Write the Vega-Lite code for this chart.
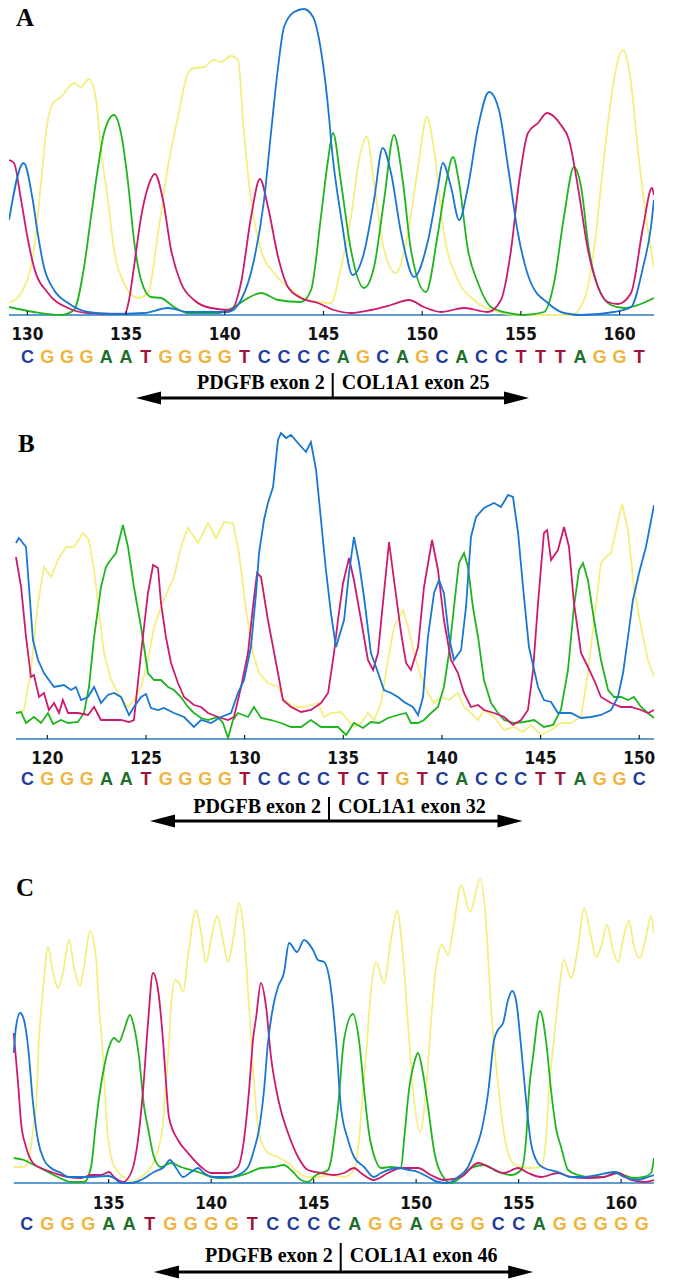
{
"$schema":"https://vega.github.io/schema/vega-lite/v6.json",
"background":"white",
"padding":{"left":8,"top":5,"right":23,"bottom":0},
"autosize":{"type":"pad"},
"bounds":"flush",
"spacing":5,
"config":{"view":{"stroke":null}},
"datasets":{
"A":[
{"d":"G","x":129.07,"y":12},{"d":"G","x":129.68,"y":22},{"d":"G","x":130.33,"y":65},{"d":"G","x":130.69,"y":132},{"d":"G","x":130.94,"y":182},{"d":"G","x":131.3,"y":212},{"d":"G","x":131.7,"y":218},{"d":"G","x":132.06,"y":227},{"d":"G","x":132.36,"y":232},{"d":"G","x":132.72,"y":228},{"d":"G","x":133.12,"y":236},{"d":"G","x":133.48,"y":215},{"d":"G","x":133.73,"y":165},{"d":"G","x":134.08,"y":115},{"d":"G","x":134.39,"y":65},{"d":"G","x":134.89,"y":32},{"d":"G","x":135.6,"y":17},{"d":"G","x":136.11,"y":22},{"d":"G","x":136.62,"y":82},{"d":"G","x":137.12,"y":148},{"d":"G","x":137.63,"y":198},{"d":"G","x":138.14,"y":242},{"d":"G","x":138.44,"y":247},{"d":"G","x":138.95,"y":248},{"d":"G","x":139.45,"y":255},{"d":"G","x":139.81,"y":253},{"d":"G","x":140.31,"y":259},{"d":"G","x":140.67,"y":255},{"d":"G","x":140.97,"y":182},{"d":"G","x":141.33,"y":115},{"d":"G","x":141.83,"y":65},{"d":"G","x":142.49,"y":42},{"d":"G","x":143.2,"y":28},{"d":"G","x":143.86,"y":18},{"d":"G","x":144.72,"y":13},{"d":"G","x":145.38,"y":12},{"d":"G","x":145.89,"y":48},{"d":"G","x":146.39,"y":98},{"d":"G","x":146.8,"y":155},{"d":"G","x":147.2,"y":178},{"d":"G","x":147.56,"y":132},{"d":"G","x":148.07,"y":65},{"d":"G","x":148.67,"y":42},{"d":"G","x":149.28,"y":82},{"d":"G","x":149.79,"y":148},{"d":"G","x":150.24,"y":198},{"d":"G","x":150.6,"y":165},{"d":"G","x":151.1,"y":82},{"d":"G","x":151.81,"y":35},{"d":"G","x":152.62,"y":15},{"d":"G","x":153.84,"y":3},{"d":"G","x":154.85,"y":0},{"d":"G","x":157.54,"y":0},{"d":"G","x":158.2,"y":15},{"d":"G","x":158.7,"y":65},{"d":"G","x":159.16,"y":148},{"d":"G","x":159.56,"y":215},{"d":"G","x":159.92,"y":255},{"d":"G","x":160.17,"y":265},{"d":"G","x":160.58,"y":232},{"d":"G","x":160.93,"y":165},{"d":"G","x":161.34,"y":98},{"d":"G","x":161.74,"y":48},
{"d":"A","x":129.07,"y":8},{"d":"A","x":130.33,"y":3},{"d":"A","x":131.7,"y":0},{"d":"A","x":132.36,"y":5},{"d":"A","x":132.87,"y":48},{"d":"A","x":133.22,"y":98},{"d":"A","x":133.58,"y":148},{"d":"A","x":133.88,"y":182},{"d":"A","x":134.39,"y":200},{"d":"A","x":134.74,"y":182},{"d":"A","x":135.1,"y":132},{"d":"A","x":135.4,"y":75},{"d":"A","x":135.76,"y":35},{"d":"A","x":136.26,"y":18},{"d":"A","x":136.77,"y":17},{"d":"A","x":137.43,"y":8},{"d":"A","x":138.14,"y":2},{"d":"A","x":139.66,"y":2},{"d":"A","x":140.47,"y":8},{"d":"A","x":141.18,"y":17},{"d":"A","x":141.83,"y":22},{"d":"A","x":142.7,"y":15},{"d":"A","x":143.86,"y":13},{"d":"A","x":144.37,"y":25},{"d":"A","x":144.87,"y":98},{"d":"A","x":145.23,"y":155},{"d":"A","x":145.48,"y":182},{"d":"A","x":145.89,"y":132},{"d":"A","x":146.39,"y":65},{"d":"A","x":147.05,"y":27},{"d":"A","x":147.56,"y":48},{"d":"A","x":148.07,"y":115},{"d":"A","x":148.57,"y":180},{"d":"A","x":149.03,"y":132},{"d":"A","x":149.43,"y":65},{"d":"A","x":150.19,"y":23},{"d":"A","x":150.8,"y":82},{"d":"A","x":151.21,"y":132},{"d":"A","x":151.56,"y":158},{"d":"A","x":151.87,"y":132},{"d":"A","x":152.32,"y":65},{"d":"A","x":152.83,"y":32},{"d":"A","x":153.49,"y":8},{"d":"A","x":154.35,"y":2},{"d":"A","x":155.16,"y":0},{"d":"A","x":156.17,"y":3},{"d":"A","x":156.68,"y":32},{"d":"A","x":157.18,"y":98},{"d":"A","x":157.69,"y":148},{"d":"A","x":158.05,"y":128},{"d":"A","x":158.45,"y":65},{"d":"A","x":158.91,"y":28},{"d":"A","x":159.56,"y":10},{"d":"A","x":160.22,"y":7},{"d":"A","x":160.93,"y":10},{"d":"A","x":161.74,"y":17},
{"d":"T","x":129.07,"y":155},{"d":"T","x":129.32,"y":152},{"d":"T","x":129.68,"y":115},{"d":"T","x":130.03,"y":75},{"d":"T","x":130.33,"y":48},{"d":"T","x":131.04,"y":22},{"d":"T","x":132.06,"y":7},{"d":"T","x":133.07,"y":2},{"d":"T","x":134.94,"y":1},{"d":"T","x":135.15,"y":15},{"d":"T","x":135.4,"y":48},{"d":"T","x":135.76,"y":98},{"d":"T","x":136.11,"y":128},{"d":"T","x":136.46,"y":141},{"d":"T","x":136.87,"y":115},{"d":"T","x":137.28,"y":65},{"d":"T","x":137.78,"y":32},{"d":"T","x":138.44,"y":15},{"d":"T","x":139.3,"y":7},{"d":"T","x":140.31,"y":5},{"d":"T","x":140.82,"y":32},{"d":"T","x":141.33,"y":98},{"d":"T","x":141.78,"y":136},{"d":"T","x":142.19,"y":108},{"d":"T","x":142.7,"y":58},{"d":"T","x":143.2,"y":28},{"d":"T","x":143.86,"y":17},{"d":"T","x":144.72,"y":12},{"d":"T","x":145.53,"y":5},{"d":"T","x":146.39,"y":2},{"d":"T","x":147.41,"y":5},{"d":"T","x":148.42,"y":10},{"d":"T","x":149.33,"y":15},{"d":"T","x":150.09,"y":8},{"d":"T","x":150.95,"y":3},{"d":"T","x":152.12,"y":7},{"d":"T","x":153.33,"y":3},{"d":"T","x":153.99,"y":15},{"d":"T","x":154.5,"y":65},{"d":"T","x":154.9,"y":132},{"d":"T","x":155.36,"y":182},{"d":"T","x":155.87,"y":192},{"d":"T","x":156.32,"y":202},{"d":"T","x":157.03,"y":190},{"d":"T","x":157.44,"y":175},{"d":"T","x":157.89,"y":128},{"d":"T","x":158.4,"y":65},{"d":"T","x":158.91,"y":28},{"d":"T","x":159.41,"y":13},{"d":"T","x":159.92,"y":11},{"d":"T","x":160.58,"y":22},{"d":"T","x":161.19,"y":88},{"d":"T","x":161.64,"y":127},{"d":"T","x":161.74,"y":120},
{"d":"C","x":129.07,"y":95},{"d":"C","x":129.81,"y":152},{"d":"C","x":130.27,"y":115},{"d":"C","x":130.52,"y":82},{"d":"C","x":130.84,"y":48},{"d":"C","x":131.35,"y":25},{"d":"C","x":132.06,"y":12},{"d":"C","x":133.07,"y":3},{"d":"C","x":134.24,"y":1},{"d":"C","x":135.91,"y":2},{"d":"C","x":137.12,"y":7},{"d":"C","x":138.14,"y":3},{"d":"C","x":140.16,"y":3},{"d":"C","x":140.82,"y":15},{"d":"C","x":141.48,"y":55},{"d":"C","x":141.99,"y":115},{"d":"C","x":142.34,"y":182},{"d":"C","x":142.7,"y":248},{"d":"C","x":143.0,"y":288},{"d":"C","x":143.51,"y":303},{"d":"C","x":144.01,"y":306},{"d":"C","x":144.47,"y":298},{"d":"C","x":144.87,"y":265},{"d":"C","x":145.28,"y":198},{"d":"C","x":145.38,"y":175},{"d":"C","x":145.89,"y":98},{"d":"C","x":146.48,"y":40},{"d":"C","x":147.05,"y":62},{"d":"C","x":147.56,"y":115},{"d":"C","x":148.0,"y":167},{"d":"C","x":148.42,"y":142},{"d":"C","x":148.93,"y":82},{"d":"C","x":149.59,"y":38},{"d":"C","x":150.3,"y":75},{"d":"C","x":150.8,"y":128},{"d":"C","x":151.04,"y":152},{"d":"C","x":151.46,"y":128},{"d":"C","x":151.87,"y":95},{"d":"C","x":152.32,"y":128},{"d":"C","x":152.83,"y":188},{"d":"C","x":153.39,"y":223},{"d":"C","x":153.89,"y":205},{"d":"C","x":154.35,"y":148},{"d":"C","x":154.85,"y":82},{"d":"C","x":155.51,"y":32},{"d":"C","x":156.37,"y":12},{"d":"C","x":157.18,"y":2},{"d":"C","x":158.05,"y":0},{"d":"C","x":159.72,"y":3},{"d":"C","x":160.58,"y":8},{"d":"C","x":161.19,"y":48},{"d":"C","x":161.59,"y":88},{"d":"C","x":161.74,"y":115}
],
"B":[
{"d":"G","x":118.41,"y":26},{"d":"G","x":118.82,"y":29},{"d":"G","x":119.17,"y":69},{"d":"G","x":119.53,"y":136},{"d":"G","x":119.83,"y":172},{"d":"G","x":120.19,"y":162},{"d":"G","x":120.54,"y":179},{"d":"G","x":120.95,"y":192},{"d":"G","x":121.35,"y":192},{"d":"G","x":121.81,"y":206},{"d":"G","x":122.11,"y":199},{"d":"G","x":122.37,"y":169},{"d":"G","x":122.62,"y":126},{"d":"G","x":122.87,"y":86},{"d":"G","x":123.23,"y":59},{"d":"G","x":123.58,"y":46},{"d":"G","x":124.09,"y":32},{"d":"G","x":124.39,"y":39},{"d":"G","x":124.75,"y":52},{"d":"G","x":125.1,"y":79},{"d":"G","x":125.41,"y":112},{"d":"G","x":125.76,"y":132},{"d":"G","x":126.12,"y":149},{"d":"G","x":126.42,"y":162},{"d":"G","x":126.77,"y":192},{"d":"G","x":127.13,"y":211},{"d":"G","x":127.64,"y":196},{"d":"G","x":128.14,"y":216},{"d":"G","x":128.55,"y":201},{"d":"G","x":128.95,"y":217},{"d":"G","x":129.41,"y":216},{"d":"G","x":129.71,"y":186},{"d":"G","x":130.07,"y":129},{"d":"G","x":130.42,"y":86},{"d":"G","x":130.73,"y":66},{"d":"G","x":131.18,"y":56},{"d":"G","x":131.69,"y":52},{"d":"G","x":132.0,"y":39},{"d":"G","x":132.5,"y":32},{"d":"G","x":133.01,"y":32},{"d":"G","x":133.72,"y":36},{"d":"G","x":134.02,"y":22},{"d":"G","x":134.38,"y":26},{"d":"G","x":134.88,"y":27},{"d":"G","x":135.24,"y":19},{"d":"G","x":135.54,"y":12},{"d":"G","x":135.9,"y":16},{"d":"G","x":136.25,"y":26},{"d":"G","x":136.56,"y":19},{"d":"G","x":136.91,"y":36},{"d":"G","x":137.27,"y":79},{"d":"G","x":137.57,"y":112},{"d":"G","x":138.03,"y":129},{"d":"G","x":138.33,"y":109},{"d":"G","x":138.58,"y":86},{"d":"G","x":138.94,"y":62},{"d":"G","x":139.29,"y":46},{"d":"G","x":139.6,"y":36},{"d":"G","x":139.95,"y":42},{"d":"G","x":140.36,"y":39},{"d":"G","x":140.81,"y":46},{"d":"G","x":141.12,"y":32},{"d":"G","x":141.47,"y":26},{"d":"G","x":141.83,"y":19},{"d":"G","x":142.13,"y":29},{"d":"G","x":142.64,"y":22},{"d":"G","x":143.15,"y":9},{"d":"G","x":143.65,"y":12},{"d":"G","x":144.11,"y":7},{"d":"G","x":144.51,"y":14},{"d":"G","x":145.02,"y":4},{"d":"G","x":145.53,"y":9},{"d":"G","x":146.03,"y":16},{"d":"G","x":146.54,"y":16},{"d":"G","x":147.05,"y":22},{"d":"G","x":147.4,"y":66},{"d":"G","x":147.71,"y":119},{"d":"G","x":148.06,"y":176},{"d":"G","x":148.32,"y":182},{"d":"G","x":148.57,"y":186},{"d":"G","x":148.82,"y":209},{"d":"G","x":149.13,"y":235},{"d":"G","x":149.43,"y":209},{"d":"G","x":149.73,"y":152},{"d":"G","x":150.09,"y":112},{"d":"G","x":150.44,"y":79},{"d":"G","x":150.75,"y":62},
{"d":"A","x":118.41,"y":26},{"d":"A","x":118.67,"y":27},{"d":"A","x":118.92,"y":16},{"d":"A","x":119.32,"y":22},{"d":"A","x":119.68,"y":16},{"d":"A","x":120.03,"y":26},{"d":"A","x":120.29,"y":15},{"d":"A","x":120.69,"y":19},{"d":"A","x":121.05,"y":16},{"d":"A","x":121.55,"y":17},{"d":"A","x":121.86,"y":26},{"d":"A","x":122.11,"y":52},{"d":"A","x":122.37,"y":102},{"d":"A","x":122.72,"y":152},{"d":"A","x":122.97,"y":172},{"d":"A","x":123.13,"y":177},{"d":"A","x":123.48,"y":186},{"d":"A","x":123.83,"y":214},{"d":"A","x":124.09,"y":192},{"d":"A","x":124.39,"y":152},{"d":"A","x":124.75,"y":112},{"d":"A","x":125.1,"y":66},{"d":"A","x":125.41,"y":59},{"d":"A","x":125.76,"y":59},{"d":"A","x":126.12,"y":52},{"d":"A","x":126.42,"y":49},{"d":"A","x":126.77,"y":42},{"d":"A","x":127.13,"y":32},{"d":"A","x":127.43,"y":26},{"d":"A","x":127.79,"y":21},{"d":"A","x":128.14,"y":19},{"d":"A","x":128.65,"y":22},{"d":"A","x":128.9,"y":16},{"d":"A","x":129.16,"y":1},{"d":"A","x":129.41,"y":19},{"d":"A","x":129.66,"y":26},{"d":"A","x":130.17,"y":22},{"d":"A","x":130.47,"y":32},{"d":"A","x":130.83,"y":21},{"d":"A","x":131.34,"y":19},{"d":"A","x":131.84,"y":16},{"d":"A","x":132.35,"y":12},{"d":"A","x":132.86,"y":12},{"d":"A","x":133.36,"y":19},{"d":"A","x":133.87,"y":12},{"d":"A","x":134.38,"y":12},{"d":"A","x":134.73,"y":12},{"d":"A","x":135.14,"y":4},{"d":"A","x":135.54,"y":16},{"d":"A","x":136.0,"y":11},{"d":"A","x":136.4,"y":17},{"d":"A","x":136.81,"y":16},{"d":"A","x":137.27,"y":21},{"d":"A","x":137.77,"y":24},{"d":"A","x":138.18,"y":26},{"d":"A","x":138.43,"y":16},{"d":"A","x":138.79,"y":16},{"d":"A","x":139.09,"y":19},{"d":"A","x":139.45,"y":26},{"d":"A","x":139.8,"y":32},{"d":"A","x":140.1,"y":52},{"d":"A","x":140.36,"y":86},{"d":"A","x":140.61,"y":132},{"d":"A","x":140.86,"y":176},{"d":"A","x":141.12,"y":186},{"d":"A","x":141.32,"y":172},{"d":"A","x":141.57,"y":132},{"d":"A","x":141.83,"y":102},{"d":"A","x":142.13,"y":59},{"d":"A","x":142.49,"y":36},{"d":"A","x":142.84,"y":26},{"d":"A","x":143.15,"y":19},{"d":"A","x":143.65,"y":16},{"d":"A","x":144.16,"y":17},{"d":"A","x":144.67,"y":19},{"d":"A","x":145.17,"y":12},{"d":"A","x":145.63,"y":14},{"d":"A","x":146.03,"y":29},{"d":"A","x":146.39,"y":69},{"d":"A","x":146.69,"y":132},{"d":"A","x":146.95,"y":169},{"d":"A","x":147.15,"y":176},{"d":"A","x":147.4,"y":159},{"d":"A","x":147.71,"y":119},{"d":"A","x":148.06,"y":79},{"d":"A","x":148.42,"y":49},{"d":"A","x":148.72,"y":42},{"d":"A","x":149.08,"y":42},{"d":"A","x":149.43,"y":39},{"d":"A","x":149.73,"y":42},{"d":"A","x":150.09,"y":32},{"d":"A","x":150.44,"y":26},{"d":"A","x":150.75,"y":21},
{"d":"T","x":118.41,"y":182},{"d":"T","x":118.67,"y":152},{"d":"T","x":118.92,"y":102},{"d":"T","x":119.17,"y":62},{"d":"T","x":119.32,"y":64},{"d":"T","x":119.58,"y":42},{"d":"T","x":119.83,"y":46},{"d":"T","x":120.08,"y":29},{"d":"T","x":120.34,"y":36},{"d":"T","x":120.59,"y":26},{"d":"T","x":120.79,"y":39},{"d":"T","x":121.05,"y":26},{"d":"T","x":121.55,"y":26},{"d":"T","x":122.06,"y":24},{"d":"T","x":122.37,"y":32},{"d":"T","x":122.72,"y":19},{"d":"T","x":123.23,"y":19},{"d":"T","x":123.73,"y":19},{"d":"T","x":124.14,"y":17},{"d":"T","x":124.39,"y":19},{"d":"T","x":124.75,"y":86},{"d":"T","x":125.1,"y":146},{"d":"T","x":125.36,"y":174},{"d":"T","x":125.61,"y":171},{"d":"T","x":125.76,"y":136},{"d":"T","x":126.01,"y":102},{"d":"T","x":126.27,"y":76},{"d":"T","x":126.62,"y":56},{"d":"T","x":126.93,"y":42},{"d":"T","x":127.43,"y":34},{"d":"T","x":127.79,"y":32},{"d":"T","x":128.14,"y":26},{"d":"T","x":128.65,"y":22},{"d":"T","x":129.16,"y":19},{"d":"T","x":129.46,"y":22},{"d":"T","x":129.82,"y":52},{"d":"T","x":130.17,"y":86},{"d":"T","x":130.42,"y":132},{"d":"T","x":130.63,"y":166},{"d":"T","x":130.83,"y":162},{"d":"T","x":131.18,"y":119},{"d":"T","x":131.44,"y":92},{"d":"T","x":131.69,"y":66},{"d":"T","x":131.94,"y":39},{"d":"T","x":132.35,"y":32},{"d":"T","x":132.86,"y":27},{"d":"T","x":133.36,"y":29},{"d":"T","x":133.87,"y":36},{"d":"T","x":134.23,"y":46},{"d":"T","x":134.53,"y":86},{"d":"T","x":134.73,"y":119},{"d":"T","x":134.99,"y":156},{"d":"T","x":135.29,"y":181},{"d":"T","x":135.54,"y":159},{"d":"T","x":135.9,"y":119},{"d":"T","x":136.25,"y":79},{"d":"T","x":136.51,"y":69},{"d":"T","x":136.76,"y":86},{"d":"T","x":137.01,"y":136},{"d":"T","x":137.32,"y":197},{"d":"T","x":137.57,"y":159},{"d":"T","x":137.93,"y":106},{"d":"T","x":138.18,"y":76},{"d":"T","x":138.43,"y":69},{"d":"T","x":138.79,"y":92},{"d":"T","x":139.09,"y":152},{"d":"T","x":139.5,"y":199},{"d":"T","x":139.8,"y":169},{"d":"T","x":140.1,"y":119},{"d":"T","x":140.46,"y":79},{"d":"T","x":140.81,"y":66},{"d":"T","x":141.12,"y":46},{"d":"T","x":141.47,"y":32},{"d":"T","x":141.83,"y":34},{"d":"T","x":142.13,"y":29},{"d":"T","x":142.64,"y":26},{"d":"T","x":143.15,"y":22},{"d":"T","x":143.6,"y":14},{"d":"T","x":144.01,"y":19},{"d":"T","x":144.36,"y":29},{"d":"T","x":144.62,"y":69},{"d":"T","x":144.87,"y":136},{"d":"T","x":145.17,"y":206},{"d":"T","x":145.33,"y":209},{"d":"T","x":145.53,"y":179},{"d":"T","x":145.88,"y":189},{"d":"T","x":146.19,"y":212},{"d":"T","x":146.44,"y":192},{"d":"T","x":146.69,"y":136},{"d":"T","x":147.05,"y":86},{"d":"T","x":147.4,"y":72},{"d":"T","x":147.71,"y":59},{"d":"T","x":148.06,"y":42},{"d":"T","x":148.57,"y":36},{"d":"T","x":149.08,"y":32},{"d":"T","x":149.58,"y":32},{"d":"T","x":150.09,"y":29},{"d":"T","x":150.44,"y":26},{"d":"T","x":150.75,"y":29},
{"d":"C","x":118.41,"y":196},{"d":"C","x":118.56,"y":201},{"d":"C","x":118.92,"y":192},{"d":"C","x":119.07,"y":152},{"d":"C","x":119.27,"y":99},{"d":"C","x":119.53,"y":79},{"d":"C","x":119.83,"y":66},{"d":"C","x":120.19,"y":56},{"d":"C","x":120.34,"y":52},{"d":"C","x":120.84,"y":54},{"d":"C","x":121.2,"y":49},{"d":"C","x":121.45,"y":52},{"d":"C","x":121.71,"y":39},{"d":"C","x":122.06,"y":42},{"d":"C","x":122.37,"y":52},{"d":"C","x":122.72,"y":36},{"d":"C","x":123.07,"y":44},{"d":"C","x":123.38,"y":46},{"d":"C","x":123.73,"y":42},{"d":"C","x":124.14,"y":24},{"d":"C","x":124.39,"y":32},{"d":"C","x":124.75,"y":42},{"d":"C","x":125.0,"y":45},{"d":"C","x":125.25,"y":31},{"d":"C","x":125.61,"y":29},{"d":"C","x":125.91,"y":31},{"d":"C","x":126.42,"y":26},{"d":"C","x":126.93,"y":22},{"d":"C","x":127.43,"y":12},{"d":"C","x":127.79,"y":19},{"d":"C","x":128.3,"y":16},{"d":"C","x":128.8,"y":22},{"d":"C","x":129.31,"y":26},{"d":"C","x":129.66,"y":46},{"d":"C","x":129.97,"y":59},{"d":"C","x":130.32,"y":92},{"d":"C","x":130.58,"y":146},{"d":"C","x":130.73,"y":186},{"d":"C","x":130.98,"y":219},{"d":"C","x":131.18,"y":236},{"d":"C","x":131.44,"y":252},{"d":"C","x":131.69,"y":299},{"d":"C","x":131.84,"y":306},{"d":"C","x":132.1,"y":301},{"d":"C","x":132.35,"y":304},{"d":"C","x":132.7,"y":296},{"d":"C","x":133.11,"y":287},{"d":"C","x":133.36,"y":297},{"d":"C","x":133.62,"y":269},{"d":"C","x":133.87,"y":219},{"d":"C","x":134.12,"y":169},{"d":"C","x":134.38,"y":125},{"d":"C","x":134.63,"y":92},{"d":"C","x":135.04,"y":119},{"d":"C","x":135.29,"y":166},{"d":"C","x":135.54,"y":202},{"d":"C","x":135.8,"y":176},{"d":"C","x":136.05,"y":142},{"d":"C","x":136.4,"y":86},{"d":"C","x":136.66,"y":72},{"d":"C","x":137.06,"y":49},{"d":"C","x":137.42,"y":46},{"d":"C","x":137.77,"y":42},{"d":"C","x":138.08,"y":37},{"d":"C","x":138.53,"y":32},{"d":"C","x":138.79,"y":24},{"d":"C","x":139.04,"y":42},{"d":"C","x":139.29,"y":102},{"d":"C","x":139.6,"y":146},{"d":"C","x":139.85,"y":159},{"d":"C","x":140.1,"y":146},{"d":"C","x":140.36,"y":102},{"d":"C","x":140.61,"y":79},{"d":"C","x":140.97,"y":89},{"d":"C","x":141.22,"y":132},{"d":"C","x":141.47,"y":202},{"d":"C","x":141.73,"y":222},{"d":"C","x":142.13,"y":231},{"d":"C","x":142.64,"y":236},{"d":"C","x":142.99,"y":232},{"d":"C","x":143.35,"y":244},{"d":"C","x":143.6,"y":242},{"d":"C","x":143.86,"y":206},{"d":"C","x":144.11,"y":152},{"d":"C","x":144.41,"y":92},{"d":"C","x":144.87,"y":52},{"d":"C","x":145.17,"y":39},{"d":"C","x":145.53,"y":37},{"d":"C","x":145.88,"y":26},{"d":"C","x":146.54,"y":26},{"d":"C","x":147.05,"y":21},{"d":"C","x":147.56,"y":22},{"d":"C","x":148.06,"y":24},{"d":"C","x":148.57,"y":29},{"d":"C","x":148.92,"y":42},{"d":"C","x":149.18,"y":66},{"d":"C","x":149.43,"y":102},{"d":"C","x":149.68,"y":139},{"d":"C","x":149.99,"y":166},{"d":"C","x":150.34,"y":192},{"d":"C","x":150.75,"y":234}
],
"C":[
{"d":"G","x":130.37,"y":16},{"d":"G","x":130.87,"y":16},{"d":"G","x":131.21,"y":36},{"d":"G","x":131.36,"y":60},{"d":"G","x":131.46,"y":76},{"d":"G","x":131.6,"y":143},{"d":"G","x":131.8,"y":193},{"d":"G","x":132.04,"y":236},{"d":"G","x":132.29,"y":210},{"d":"G","x":132.53,"y":195},{"d":"G","x":132.77,"y":210},{"d":"G","x":133.07,"y":243},{"d":"G","x":133.31,"y":216},{"d":"G","x":133.6,"y":197},{"d":"G","x":133.8,"y":216},{"d":"G","x":134.09,"y":252},{"d":"G","x":134.38,"y":226},{"d":"G","x":134.53,"y":176},{"d":"G","x":134.73,"y":126},{"d":"G","x":134.87,"y":70},{"d":"G","x":135.12,"y":26},{"d":"G","x":135.46,"y":11},{"d":"G","x":135.75,"y":6},{"d":"G","x":136.19,"y":1},{"d":"G","x":136.58,"y":6},{"d":"G","x":137.07,"y":16},{"d":"G","x":137.41,"y":33},{"d":"G","x":137.65,"y":60},{"d":"G","x":137.75,"y":90},{"d":"G","x":137.9,"y":126},{"d":"G","x":138.04,"y":176},{"d":"G","x":138.24,"y":203},{"d":"G","x":138.43,"y":200},{"d":"G","x":138.63,"y":191},{"d":"G","x":138.87,"y":226},{"d":"G","x":139.26,"y":273},{"d":"G","x":139.51,"y":250},{"d":"G","x":139.75,"y":220},{"d":"G","x":139.99,"y":243},{"d":"G","x":140.29,"y":267},{"d":"G","x":140.58,"y":243},{"d":"G","x":140.82,"y":221},{"d":"G","x":141.12,"y":250},{"d":"G","x":141.36,"y":280},{"d":"G","x":141.6,"y":250},{"d":"G","x":141.85,"y":176},{"d":"G","x":142.09,"y":100},{"d":"G","x":142.33,"y":50},{"d":"G","x":142.77,"y":30},{"d":"G","x":143.26,"y":26},{"d":"G","x":143.75,"y":20},{"d":"G","x":144.24,"y":11},{"d":"G","x":144.72,"y":6},{"d":"G","x":145.21,"y":6},{"d":"G","x":145.85,"y":8},{"d":"G","x":146.48,"y":6},{"d":"G","x":146.97,"y":13},{"d":"G","x":147.21,"y":43},{"d":"G","x":147.41,"y":93},{"d":"G","x":147.55,"y":126},{"d":"G","x":147.8,"y":193},{"d":"G","x":148.04,"y":221},{"d":"G","x":148.43,"y":200},{"d":"G","x":148.77,"y":243},{"d":"G","x":149.07,"y":272},{"d":"G","x":149.36,"y":226},{"d":"G","x":149.6,"y":160},{"d":"G","x":149.85,"y":93},{"d":"G","x":150.19,"y":51},{"d":"G","x":150.48,"y":93},{"d":"G","x":150.72,"y":160},{"d":"G","x":150.97,"y":216},{"d":"G","x":151.26,"y":238},{"d":"G","x":151.55,"y":228},{"d":"G","x":151.85,"y":260},{"d":"G","x":152.19,"y":298},{"d":"G","x":152.63,"y":271},{"d":"G","x":153.12,"y":304},{"d":"G","x":153.41,"y":260},{"d":"G","x":153.65,"y":176},{"d":"G","x":153.99,"y":100},{"d":"G","x":154.28,"y":50},{"d":"G","x":154.72,"y":20},{"d":"G","x":155.12,"y":16},{"d":"G","x":155.6,"y":15},{"d":"G","x":156.09,"y":16},{"d":"G","x":156.33,"y":43},{"d":"G","x":156.48,"y":93},{"d":"G","x":156.72,"y":143},{"d":"G","x":156.97,"y":193},{"d":"G","x":157.21,"y":223},{"d":"G","x":157.55,"y":205},{"d":"G","x":157.9,"y":236},{"d":"G","x":158.19,"y":275},{"d":"G","x":158.53,"y":246},{"d":"G","x":158.77,"y":226},{"d":"G","x":159.02,"y":236},{"d":"G","x":159.31,"y":258},{"d":"G","x":159.6,"y":233},{"d":"G","x":159.85,"y":221},{"d":"G","x":160.09,"y":243},{"d":"G","x":160.38,"y":262},{"d":"G","x":160.63,"y":236},{"d":"G","x":160.92,"y":225},{"d":"G","x":161.21,"y":246},{"d":"G","x":161.46,"y":267},{"d":"G","x":161.6,"y":250},
{"d":"A","x":130.37,"y":25},{"d":"A","x":130.87,"y":23},{"d":"A","x":131.36,"y":18},{"d":"A","x":131.85,"y":13},{"d":"A","x":132.53,"y":6},{"d":"A","x":133.16,"y":1},{"d":"A","x":133.8,"y":1},{"d":"A","x":134.14,"y":16},{"d":"A","x":134.38,"y":60},{"d":"A","x":134.53,"y":85},{"d":"A","x":134.77,"y":115},{"d":"A","x":135.02,"y":136},{"d":"A","x":135.26,"y":145},{"d":"A","x":135.51,"y":141},{"d":"A","x":135.75,"y":153},{"d":"A","x":136.04,"y":168},{"d":"A","x":136.24,"y":156},{"d":"A","x":136.48,"y":126},{"d":"A","x":136.73,"y":76},{"d":"A","x":136.92,"y":55},{"d":"A","x":137.21,"y":26},{"d":"A","x":137.55,"y":16},{"d":"A","x":138.04,"y":20},{"d":"A","x":138.53,"y":16},{"d":"A","x":139.02,"y":13},{"d":"A","x":139.51,"y":10},{"d":"A","x":139.99,"y":6},{"d":"A","x":140.48,"y":5},{"d":"A","x":141.12,"y":6},{"d":"A","x":141.8,"y":10},{"d":"A","x":142.43,"y":15},{"d":"A","x":143.07,"y":16},{"d":"A","x":143.55,"y":18},{"d":"A","x":143.9,"y":13},{"d":"A","x":144.38,"y":3},{"d":"A","x":144.72,"y":1},{"d":"A","x":145.12,"y":8},{"d":"A","x":145.7,"y":13},{"d":"A","x":145.85,"y":23},{"d":"A","x":145.99,"y":43},{"d":"A","x":146.19,"y":76},{"d":"A","x":146.48,"y":143},{"d":"A","x":146.92,"y":169},{"d":"A","x":147.21,"y":143},{"d":"A","x":147.46,"y":93},{"d":"A","x":147.7,"y":50},{"d":"A","x":148.04,"y":22},{"d":"A","x":148.28,"y":15},{"d":"A","x":148.77,"y":16},{"d":"A","x":149.26,"y":15},{"d":"A","x":149.41,"y":43},{"d":"A","x":149.65,"y":93},{"d":"A","x":149.9,"y":120},{"d":"A","x":150.09,"y":130},{"d":"A","x":150.33,"y":110},{"d":"A","x":150.58,"y":76},{"d":"A","x":150.87,"y":33},{"d":"A","x":151.36,"y":5},{"d":"A","x":151.7,"y":0},{"d":"A","x":152.19,"y":6},{"d":"A","x":152.68,"y":15},{"d":"A","x":153.31,"y":18},{"d":"A","x":153.99,"y":11},{"d":"A","x":154.63,"y":8},{"d":"A","x":155.12,"y":13},{"d":"A","x":155.36,"y":43},{"d":"A","x":155.51,"y":93},{"d":"A","x":155.7,"y":126},{"d":"A","x":156.04,"y":172},{"d":"A","x":156.33,"y":143},{"d":"A","x":156.58,"y":93},{"d":"A","x":156.82,"y":55},{"d":"A","x":157.07,"y":36},{"d":"A","x":157.41,"y":13},{"d":"A","x":157.9,"y":8},{"d":"A","x":158.53,"y":6},{"d":"A","x":159.16,"y":6},{"d":"A","x":159.75,"y":11},{"d":"A","x":160.14,"y":8},{"d":"A","x":160.63,"y":5},{"d":"A","x":161.11,"y":6},{"d":"A","x":161.46,"y":10},{"d":"A","x":161.6,"y":25},
{"d":"T","x":130.37,"y":150},{"d":"T","x":130.58,"y":100},{"d":"T","x":130.73,"y":60},{"d":"T","x":130.97,"y":36},{"d":"T","x":131.31,"y":20},{"d":"T","x":131.7,"y":15},{"d":"T","x":132.33,"y":10},{"d":"T","x":133.02,"y":6},{"d":"T","x":133.65,"y":5},{"d":"T","x":134.14,"y":8},{"d":"T","x":134.63,"y":8},{"d":"T","x":135.02,"y":11},{"d":"T","x":135.26,"y":6},{"d":"T","x":135.7,"y":1},{"d":"T","x":136.09,"y":10},{"d":"T","x":136.43,"y":43},{"d":"T","x":136.68,"y":93},{"d":"T","x":136.92,"y":160},{"d":"T","x":137.16,"y":210},{"d":"T","x":137.41,"y":193},{"d":"T","x":137.65,"y":143},{"d":"T","x":137.8,"y":100},{"d":"T","x":137.94,"y":66},{"d":"T","x":138.38,"y":43},{"d":"T","x":138.87,"y":30},{"d":"T","x":139.51,"y":16},{"d":"T","x":139.99,"y":10},{"d":"T","x":140.82,"y":10},{"d":"T","x":141.31,"y":16},{"d":"T","x":141.6,"y":43},{"d":"T","x":141.85,"y":93},{"d":"T","x":142.04,"y":143},{"d":"T","x":142.19,"y":165},{"d":"T","x":142.43,"y":200},{"d":"T","x":142.68,"y":176},{"d":"T","x":142.92,"y":126},{"d":"T","x":143.16,"y":95},{"d":"T","x":143.41,"y":72},{"d":"T","x":143.75,"y":50},{"d":"T","x":144.24,"y":26},{"d":"T","x":144.72,"y":13},{"d":"T","x":145.36,"y":10},{"d":"T","x":145.99,"y":8},{"d":"T","x":146.48,"y":10},{"d":"T","x":146.97,"y":15},{"d":"T","x":147.31,"y":10},{"d":"T","x":147.94,"y":3},{"d":"T","x":148.63,"y":10},{"d":"T","x":149.26,"y":15},{"d":"T","x":150.09,"y":15},{"d":"T","x":150.72,"y":8},{"d":"T","x":151.36,"y":3},{"d":"T","x":152.19,"y":6},{"d":"T","x":153.02,"y":20},{"d":"T","x":153.65,"y":15},{"d":"T","x":154.29,"y":10},{"d":"T","x":154.97,"y":15},{"d":"T","x":155.46,"y":10},{"d":"T","x":156.09,"y":6},{"d":"T","x":156.92,"y":10},{"d":"T","x":157.55,"y":6},{"d":"T","x":158.38,"y":5},{"d":"T","x":159.16,"y":6},{"d":"T","x":159.85,"y":10},{"d":"T","x":160.48,"y":3},{"d":"T","x":161.11,"y":1},{"d":"T","x":161.6,"y":3},
{"d":"C","x":130.37,"y":130},{"d":"C","x":130.48,"y":156},{"d":"C","x":130.68,"y":170},{"d":"C","x":130.87,"y":163},{"d":"C","x":131.07,"y":136},{"d":"C","x":131.31,"y":80},{"d":"C","x":131.55,"y":43},{"d":"C","x":131.85,"y":23},{"d":"C","x":132.19,"y":15},{"d":"C","x":132.68,"y":10},{"d":"C","x":133.02,"y":6},{"d":"C","x":133.99,"y":6},{"d":"C","x":134.97,"y":7},{"d":"C","x":135.26,"y":5},{"d":"C","x":135.6,"y":0},{"d":"C","x":136.09,"y":0},{"d":"C","x":136.58,"y":3},{"d":"C","x":137.21,"y":11},{"d":"C","x":137.7,"y":16},{"d":"C","x":137.99,"y":23},{"d":"C","x":138.29,"y":15},{"d":"C","x":138.63,"y":6},{"d":"C","x":139.02,"y":11},{"d":"C","x":139.36,"y":15},{"d":"C","x":139.65,"y":10},{"d":"C","x":140.14,"y":6},{"d":"C","x":140.82,"y":6},{"d":"C","x":141.31,"y":8},{"d":"C","x":141.8,"y":16},{"d":"C","x":142.09,"y":33},{"d":"C","x":142.33,"y":53},{"d":"C","x":142.58,"y":93},{"d":"C","x":142.77,"y":140},{"d":"C","x":143.02,"y":176},{"d":"C","x":143.26,"y":196},{"d":"C","x":143.55,"y":210},{"d":"C","x":143.8,"y":240},{"d":"C","x":144.19,"y":231},{"d":"C","x":144.53,"y":243},{"d":"C","x":144.97,"y":233},{"d":"C","x":145.21,"y":223},{"d":"C","x":145.51,"y":221},{"d":"C","x":145.85,"y":193},{"d":"C","x":146.09,"y":143},{"d":"C","x":146.33,"y":76},{"d":"C","x":146.68,"y":43},{"d":"C","x":146.97,"y":26},{"d":"C","x":147.46,"y":16},{"d":"C","x":147.94,"y":6},{"d":"C","x":148.29,"y":10},{"d":"C","x":149.12,"y":15},{"d":"C","x":149.65,"y":13},{"d":"C","x":150.09,"y":11},{"d":"C","x":150.58,"y":6},{"d":"C","x":151.07,"y":1},{"d":"C","x":151.55,"y":0},{"d":"C","x":152.04,"y":6},{"d":"C","x":152.53,"y":16},{"d":"C","x":152.82,"y":30},{"d":"C","x":153.16,"y":50},{"d":"C","x":153.51,"y":90},{"d":"C","x":153.8,"y":143},{"d":"C","x":153.99,"y":153},{"d":"C","x":154.24,"y":160},{"d":"C","x":154.48,"y":183},{"d":"C","x":154.68,"y":192},{"d":"C","x":154.87,"y":183},{"d":"C","x":155.12,"y":136},{"d":"C","x":155.36,"y":83},{"d":"C","x":155.6,"y":40},{"d":"C","x":155.94,"y":20},{"d":"C","x":156.24,"y":15},{"d":"C","x":156.92,"y":11},{"d":"C","x":157.55,"y":6},{"d":"C","x":158.19,"y":6},{"d":"C","x":158.87,"y":8},{"d":"C","x":159.65,"y":11},{"d":"C","x":160.14,"y":6},{"d":"C","x":160.82,"y":3},{"d":"C","x":161.31,"y":6},{"d":"C","x":161.6,"y":8}
],
"seqA":[{"n":130,"b":"C"},{"n":131,"b":"G"},{"n":132,"b":"G"},{"n":133,"b":"G"},{"n":134,"b":"A"},{"n":135,"b":"A"},{"n":136,"b":"T"},{"n":137,"b":"G"},{"n":138,"b":"G"},{"n":139,"b":"G"},{"n":140,"b":"G"},{"n":141,"b":"T"},{"n":142,"b":"C"},{"n":143,"b":"C"},{"n":144,"b":"C"},{"n":145,"b":"C"},{"n":146,"b":"A"},{"n":147,"b":"G"},{"n":148,"b":"C"},{"n":149,"b":"A"},{"n":150,"b":"G"},{"n":151,"b":"C"},{"n":152,"b":"A"},{"n":153,"b":"C"},{"n":154,"b":"C"},{"n":155,"b":"T"},{"n":156,"b":"T"},{"n":157,"b":"T"},{"n":158,"b":"A"},{"n":159,"b":"G"},{"n":160,"b":"G"},{"n":161,"b":"T"}],
"seqB":[{"n":119,"b":"C"},{"n":120,"b":"G"},{"n":121,"b":"G"},{"n":122,"b":"G"},{"n":123,"b":"A"},{"n":124,"b":"A"},{"n":125,"b":"T"},{"n":126,"b":"G"},{"n":127,"b":"G"},{"n":128,"b":"G"},{"n":129,"b":"G"},{"n":130,"b":"T"},{"n":131,"b":"C"},{"n":132,"b":"C"},{"n":133,"b":"C"},{"n":134,"b":"C"},{"n":135,"b":"T"},{"n":136,"b":"C"},{"n":137,"b":"T"},{"n":138,"b":"G"},{"n":139,"b":"T"},{"n":140,"b":"C"},{"n":141,"b":"A"},{"n":142,"b":"C"},{"n":143,"b":"C"},{"n":144,"b":"C"},{"n":145,"b":"T"},{"n":146,"b":"T"},{"n":147,"b":"A"},{"n":148,"b":"G"},{"n":149,"b":"G"},{"n":150,"b":"C"}],
"seqC":[{"n":131,"b":"C"},{"n":132,"b":"G"},{"n":133,"b":"G"},{"n":134,"b":"G"},{"n":135,"b":"A"},{"n":136,"b":"A"},{"n":137,"b":"T"},{"n":138,"b":"G"},{"n":139,"b":"G"},{"n":140,"b":"G"},{"n":141,"b":"G"},{"n":142,"b":"T"},{"n":143,"b":"C"},{"n":144,"b":"C"},{"n":145,"b":"C"},{"n":146,"b":"C"},{"n":147,"b":"A"},{"n":148,"b":"G"},{"n":149,"b":"G"},{"n":150,"b":"A"},{"n":151,"b":"G"},{"n":152,"b":"G"},{"n":153,"b":"G"},{"n":154,"b":"C"},{"n":155,"b":"C"},{"n":156,"b":"A"},{"n":157,"b":"G"},{"n":158,"b":"G"},{"n":159,"b":"G"},{"n":160,"b":"G"},{"n":161,"b":"G"}]
},
"vconcat":[
{"width":645,"height":405,
"layer":[
{"data":{"values":[{}]},"mark":{"type":"rule","color":"#2b7bbd","strokeWidth":1.5},"encoding":{"x":{"datum":129.068,"type":"quantitative","scale":{"domain":[129.068,161.744],"nice":false,"zero":false},"axis":null},"x2":{"datum":161.744},"y":{"datum":0,"type":"quantitative","scale":{"domain":[-95,310],"nice":false,"zero":false},"axis":null}}},
{"data":{"name":"A"},"mark":{"type":"line","interpolate":"monotone","strokeWidth":1.8,"clip":true},"encoding":{"x":{"field":"x","type":"quantitative","scale":{"domain":[129.068,161.744],"nice":false,"zero":false},"axis":null},"y":{"field":"y","type":"quantitative","scale":{"domain":[-95,310],"nice":false,"zero":false},"axis":null},"stroke":{"field":"d","type":"nominal","scale":{"domain":["G","A","T","C"],"range":["#f5ee80","#1fb51f","#cc1a6e","#1976d2"]},"legend":null}}},
{"data":{"values":[{"t":130},{"t":135},{"t":140},{"t":145},{"t":150},{"t":155},{"t":160}]},"mark":{"type":"rule","color":"#222222","strokeWidth":1.2},"encoding":{"x":{"field":"t","type":"quantitative","scale":{"domain":[129.068,161.744],"nice":false,"zero":false},"axis":null},"y":{"datum":0,"type":"quantitative","scale":{"domain":[-95,310],"nice":false,"zero":false},"axis":null},"y2":{"datum":4}}},
{"data":{"values":[{"t":130},{"t":135},{"t":140},{"t":145},{"t":150},{"t":155},{"t":160}]},"mark":{"type":"text","font":"Liberation Sans Narrow, DejaVu Sans Condensed, sans-serif","fontSize":17,"fontWeight":"bold","baseline":"alphabetic","color":"#111111"},"encoding":{"x":{"field":"t","type":"quantitative","scale":{"domain":[129.068,161.744],"nice":false,"zero":false},"axis":null},"y":{"datum":-25,"type":"quantitative","scale":{"domain":[-95,310],"nice":false,"zero":false},"axis":null},"text":{"field":"t","type":"quantitative","format":"d"}}},
{"data":{"name":"seqA"},"mark":{"type":"text","font":"Liberation Sans, sans-serif","fontSize":18,"fontWeight":"bold","baseline":"alphabetic"},"encoding":{"x":{"field":"n","type":"quantitative","scale":{"domain":[129.068,161.744],"nice":false,"zero":false},"axis":null},"y":{"datum":-48,"type":"quantitative","scale":{"domain":[-95,310],"nice":false,"zero":false},"axis":null},"text":{"field":"b","type":"nominal"},"color":{"field":"b","type":"nominal","scale":{"domain":["G","A","T","C"],"range":["#f0b43c","#1d6e2a","#a0143c","#1f3d9c"]},"legend":null}}},
{"data":{"values":[{}]},"mark":{"type":"rule","color":"black","strokeWidth":2},"encoding":{"x":{"datum":145.467,"type":"quantitative","scale":{"domain":[129.068,161.744],"nice":false,"zero":false},"axis":null},"y":{"datum":-58,"type":"quantitative","scale":{"domain":[-95,310],"nice":false,"zero":false},"axis":null},"y2":{"datum":-83}}},
{"data":{"values":[{}]},"mark":{"type":"rule","color":"black","strokeWidth":3},"encoding":{"x":{"datum":136.1,"type":"quantitative","scale":{"domain":[129.068,161.744],"nice":false,"zero":false},"axis":null},"x2":{"datum":154.8},"y":{"datum":-83,"type":"quantitative","scale":{"domain":[-95,310],"nice":false,"zero":false},"axis":null}}},
{"data":{"values":[{}]},"mark":{"type":"point","shape":"M -1 0 L 1 -0.52 L 1 0.52 Z","filled":true,"color":"black","opacity":1,"size":625},"encoding":{"x":{"datum":136.135,"type":"quantitative","scale":{"domain":[129.068,161.744],"nice":false,"zero":false},"axis":null},"y":{"datum":-83,"type":"quantitative","scale":{"domain":[-95,310],"nice":false,"zero":false},"axis":null}}},
{"data":{"values":[{}]},"mark":{"type":"point","shape":"M 1 0 L -1 -0.52 L -1 0.52 Z","filled":true,"color":"black","opacity":1,"size":625},"encoding":{"x":{"datum":154.777,"type":"quantitative","scale":{"domain":[129.068,161.744],"nice":false,"zero":false},"axis":null},"y":{"datum":-83,"type":"quantitative","scale":{"domain":[-95,310],"nice":false,"zero":false},"axis":null}}},
{"data":{"values":[{}]},"mark":{"type":"text","text":"PDGFB exon 2","font":"Liberation Serif, serif","fontSize":20,"fontWeight":"bold","align":"right","baseline":"alphabetic","dx":-8,"color":"black"},"encoding":{"x":{"datum":145.467,"type":"quantitative","scale":{"domain":[129.068,161.744],"nice":false,"zero":false},"axis":null},"y":{"datum":-74,"type":"quantitative","scale":{"domain":[-95,310],"nice":false,"zero":false},"axis":null}}},
{"data":{"values":[{}]},"mark":{"type":"text","text":"COL1A1 exon 25","font":"Liberation Serif, serif","fontSize":20,"fontWeight":"bold","align":"left","baseline":"alphabetic","dx":9,"color":"black"},"encoding":{"x":{"datum":145.467,"type":"quantitative","scale":{"domain":[129.068,161.744],"nice":false,"zero":false},"axis":null},"y":{"datum":-74,"type":"quantitative","scale":{"domain":[-95,310],"nice":false,"zero":false},"axis":null}}},
{"data":{"values":[{}]},"mark":{"type":"text","text":"A","font":"Liberation Serif, serif","fontSize":25,"fontWeight":"bold","align":"left","baseline":"middle","color":"black"},"encoding":{"x":{"datum":129.42,"type":"quantitative","scale":{"domain":[129.068,161.744],"nice":false,"zero":false},"axis":null},"y":{"datum":297,"type":"quantitative","scale":{"domain":[-95,310],"nice":false,"zero":false},"axis":null}}}
]},
{"width":645,"height":419,
"layer":[
{"data":{"values":[{}]},"mark":{"type":"rule","color":"#2b7bbd","strokeWidth":1.5},"encoding":{"x":{"datum":118.41,"type":"quantitative","scale":{"domain":[118.057,150.748],"nice":false,"zero":false},"axis":null},"x2":{"datum":150.748},"y":{"datum":0,"type":"quantitative","scale":{"domain":[-95,324],"nice":false,"zero":false},"axis":null}}},
{"data":{"name":"B"},"mark":{"type":"line","interpolate":"linear","strokeWidth":1.8,"clip":true},"encoding":{"x":{"field":"x","type":"quantitative","scale":{"domain":[118.057,150.748],"nice":false,"zero":false},"axis":null},"y":{"field":"y","type":"quantitative","scale":{"domain":[-95,324],"nice":false,"zero":false},"axis":null},"stroke":{"field":"d","type":"nominal","scale":{"domain":["G","A","T","C"],"range":["#f5ee80","#1fb51f","#cc1a6e","#1976d2"]},"legend":null}}},
{"data":{"values":[{"t":120},{"t":125},{"t":130},{"t":135},{"t":140},{"t":145},{"t":150}]},"mark":{"type":"rule","color":"#222222","strokeWidth":1.2},"encoding":{"x":{"field":"t","type":"quantitative","scale":{"domain":[118.057,150.748],"nice":false,"zero":false},"axis":null},"y":{"datum":0,"type":"quantitative","scale":{"domain":[-95,324],"nice":false,"zero":false},"axis":null},"y2":{"datum":4}}},
{"data":{"values":[{"t":120},{"t":125},{"t":130},{"t":135},{"t":140},{"t":145},{"t":150}]},"mark":{"type":"text","font":"Liberation Sans Narrow, DejaVu Sans Condensed, sans-serif","fontSize":17,"fontWeight":"bold","baseline":"alphabetic","color":"#111111"},"encoding":{"x":{"field":"t","type":"quantitative","scale":{"domain":[118.057,150.748],"nice":false,"zero":false},"axis":null},"y":{"datum":-25,"type":"quantitative","scale":{"domain":[-95,324],"nice":false,"zero":false},"axis":null},"text":{"field":"t","type":"quantitative","format":"d"}}},
{"data":{"name":"seqB"},"mark":{"type":"text","font":"Liberation Sans, sans-serif","fontSize":18,"fontWeight":"bold","baseline":"alphabetic"},"encoding":{"x":{"field":"n","type":"quantitative","scale":{"domain":[118.057,150.748],"nice":false,"zero":false},"axis":null},"y":{"datum":-46,"type":"quantitative","scale":{"domain":[-95,324],"nice":false,"zero":false},"axis":null},"text":{"field":"b","type":"nominal"},"color":{"field":"b","type":"nominal","scale":{"domain":["G","A","T","C"],"range":["#f0b43c","#1d6e2a","#a0143c","#1f3d9c"]},"legend":null}}},
{"data":{"values":[{}]},"mark":{"type":"rule","color":"black","strokeWidth":2},"encoding":{"x":{"datum":134.275,"type":"quantitative","scale":{"domain":[118.057,150.748],"nice":false,"zero":false},"axis":null},"y":{"datum":-58,"type":"quantitative","scale":{"domain":[-95,324],"nice":false,"zero":false},"axis":null},"y2":{"datum":-82}}},
{"data":{"values":[{}]},"mark":{"type":"rule","color":"black","strokeWidth":3},"encoding":{"x":{"datum":125.8,"type":"quantitative","scale":{"domain":[118.057,150.748],"nice":false,"zero":false},"axis":null},"x2":{"datum":143.5},"y":{"datum":-82,"type":"quantitative","scale":{"domain":[-95,324],"nice":false,"zero":false},"axis":null}}},
{"data":{"values":[{}]},"mark":{"type":"point","shape":"M -1 0 L 1 -0.52 L 1 0.52 Z","filled":true,"color":"black","opacity":1,"size":625},"encoding":{"x":{"datum":125.837,"type":"quantitative","scale":{"domain":[118.057,150.748],"nice":false,"zero":false},"axis":null},"y":{"datum":-82,"type":"quantitative","scale":{"domain":[-95,324],"nice":false,"zero":false},"axis":null}}},
{"data":{"values":[{}]},"mark":{"type":"point","shape":"M 1 0 L -1 -0.52 L -1 0.52 Z","filled":true,"color":"black","opacity":1,"size":625},"encoding":{"x":{"datum":143.449,"type":"quantitative","scale":{"domain":[118.057,150.748],"nice":false,"zero":false},"axis":null},"y":{"datum":-82,"type":"quantitative","scale":{"domain":[-95,324],"nice":false,"zero":false},"axis":null}}},
{"data":{"values":[{}]},"mark":{"type":"text","text":"PDGFB exon 2","font":"Liberation Serif, serif","fontSize":20,"fontWeight":"bold","align":"right","baseline":"alphabetic","dx":-8,"color":"black"},"encoding":{"x":{"datum":134.275,"type":"quantitative","scale":{"domain":[118.057,150.748],"nice":false,"zero":false},"axis":null},"y":{"datum":-74,"type":"quantitative","scale":{"domain":[-95,324],"nice":false,"zero":false},"axis":null}}},
{"data":{"values":[{}]},"mark":{"type":"text","text":"COL1A1 exon 32","font":"Liberation Serif, serif","fontSize":20,"fontWeight":"bold","align":"left","baseline":"alphabetic","dx":9,"color":"black"},"encoding":{"x":{"datum":134.275,"type":"quantitative","scale":{"domain":[118.057,150.748],"nice":false,"zero":false},"axis":null},"y":{"datum":-74,"type":"quantitative","scale":{"domain":[-95,324],"nice":false,"zero":false},"axis":null}}},
{"data":{"values":[{}]},"mark":{"type":"text","text":"B","font":"Liberation Serif, serif","fontSize":25,"fontWeight":"bold","align":"left","baseline":"middle","color":"black"},"encoding":{"x":{"datum":118.51,"type":"quantitative","scale":{"domain":[118.057,150.748],"nice":false,"zero":false},"axis":null},"y":{"datum":295.5,"type":"quantitative","scale":{"domain":[-95,324],"nice":false,"zero":false},"axis":null}}}
]},
{"width":645,"height":441,
"layer":[
{"data":{"values":[{}]},"mark":{"type":"rule","color":"#2b7bbd","strokeWidth":1.5},"encoding":{"x":{"datum":130.37,"type":"quantitative","scale":{"domain":[130.139,161.602],"nice":false,"zero":false},"axis":null},"x2":{"datum":161.602},"y":{"datum":0,"type":"quantitative","scale":{"domain":[-97,344],"nice":false,"zero":false},"axis":null}}},
{"data":{"name":"C"},"mark":{"type":"line","interpolate":"monotone","strokeWidth":1.8,"clip":true},"encoding":{"x":{"field":"x","type":"quantitative","scale":{"domain":[130.139,161.602],"nice":false,"zero":false},"axis":null},"y":{"field":"y","type":"quantitative","scale":{"domain":[-97,344],"nice":false,"zero":false},"axis":null},"stroke":{"field":"d","type":"nominal","scale":{"domain":["G","A","T","C"],"range":["#f5ee80","#1fb51f","#cc1a6e","#1976d2"]},"legend":null}}},
{"data":{"values":[{"t":135},{"t":140},{"t":145},{"t":150},{"t":155},{"t":160}]},"mark":{"type":"rule","color":"#222222","strokeWidth":1.2},"encoding":{"x":{"field":"t","type":"quantitative","scale":{"domain":[130.139,161.602],"nice":false,"zero":false},"axis":null},"y":{"datum":0,"type":"quantitative","scale":{"domain":[-97,344],"nice":false,"zero":false},"axis":null},"y2":{"datum":4}}},
{"data":{"values":[{"t":135},{"t":140},{"t":145},{"t":150},{"t":155},{"t":160}]},"mark":{"type":"text","font":"Liberation Sans Narrow, DejaVu Sans Condensed, sans-serif","fontSize":17,"fontWeight":"bold","baseline":"alphabetic","color":"#111111"},"encoding":{"x":{"field":"t","type":"quantitative","scale":{"domain":[130.139,161.602],"nice":false,"zero":false},"axis":null},"y":{"datum":-26,"type":"quantitative","scale":{"domain":[-97,344],"nice":false,"zero":false},"axis":null},"text":{"field":"t","type":"quantitative","format":"d"}}},
{"data":{"name":"seqC"},"mark":{"type":"text","font":"Liberation Sans, sans-serif","fontSize":18,"fontWeight":"bold","baseline":"alphabetic"},"encoding":{"x":{"field":"n","type":"quantitative","scale":{"domain":[130.139,161.602],"nice":false,"zero":false},"axis":null},"y":{"datum":-47,"type":"quantitative","scale":{"domain":[-97,344],"nice":false,"zero":false},"axis":null},"text":{"field":"b","type":"nominal"},"color":{"field":"b","type":"nominal","scale":{"domain":["G","A","T","C"],"range":["#f0b43c","#1d6e2a","#a0143c","#1f3d9c"]},"legend":null}}},
{"data":{"values":[{}]},"mark":{"type":"rule","color":"black","strokeWidth":2},"encoding":{"x":{"datum":146.32,"type":"quantitative","scale":{"domain":[130.139,161.602],"nice":false,"zero":false},"axis":null},"y":{"datum":-60,"type":"quantitative","scale":{"domain":[-97,344],"nice":false,"zero":false},"axis":null},"y2":{"datum":-89}}},
{"data":{"values":[{}]},"mark":{"type":"rule","color":"black","strokeWidth":3},"encoding":{"x":{"datum":137.8,"type":"quantitative","scale":{"domain":[130.139,161.602],"nice":false,"zero":false},"axis":null},"x2":{"datum":155.1},"y":{"datum":-89,"type":"quantitative","scale":{"domain":[-97,344],"nice":false,"zero":false},"axis":null}}},
{"data":{"values":[{}]},"mark":{"type":"point","shape":"M -1 0 L 1 -0.52 L 1 0.52 Z","filled":true,"color":"black","opacity":1,"size":625},"encoding":{"x":{"datum":137.82,"type":"quantitative","scale":{"domain":[130.139,161.602],"nice":false,"zero":false},"axis":null},"y":{"datum":-89,"type":"quantitative","scale":{"domain":[-97,344],"nice":false,"zero":false},"axis":null}}},
{"data":{"values":[{}]},"mark":{"type":"point","shape":"M 1 0 L -1 -0.52 L -1 0.52 Z","filled":true,"color":"black","opacity":1,"size":625},"encoding":{"x":{"datum":155.1,"type":"quantitative","scale":{"domain":[130.139,161.602],"nice":false,"zero":false},"axis":null},"y":{"datum":-89,"type":"quantitative","scale":{"domain":[-97,344],"nice":false,"zero":false},"axis":null}}},
{"data":{"values":[{}]},"mark":{"type":"text","text":"PDGFB exon 2","font":"Liberation Serif, serif","fontSize":20,"fontWeight":"bold","align":"right","baseline":"alphabetic","dx":-8,"color":"black"},"encoding":{"x":{"datum":146.32,"type":"quantitative","scale":{"domain":[130.139,161.602],"nice":false,"zero":false},"axis":null},"y":{"datum":-79,"type":"quantitative","scale":{"domain":[-97,344],"nice":false,"zero":false},"axis":null}}},
{"data":{"values":[{}]},"mark":{"type":"text","text":"COL1A1 exon 46","font":"Liberation Serif, serif","fontSize":20,"fontWeight":"bold","align":"left","baseline":"alphabetic","dx":9,"color":"black"},"encoding":{"x":{"datum":146.32,"type":"quantitative","scale":{"domain":[130.139,161.602],"nice":false,"zero":false},"axis":null},"y":{"datum":-79,"type":"quantitative","scale":{"domain":[-97,344],"nice":false,"zero":false},"axis":null}}},
{"data":{"values":[{}]},"mark":{"type":"text","text":"C","font":"Liberation Serif, serif","fontSize":25,"fontWeight":"bold","align":"left","baseline":"middle","color":"black"},"encoding":{"x":{"datum":130.48,"type":"quantitative","scale":{"domain":[130.139,161.602],"nice":false,"zero":false},"axis":null},"y":{"datum":295.5,"type":"quantitative","scale":{"domain":[-97,344],"nice":false,"zero":false},"axis":null}}}
]}
]
}
